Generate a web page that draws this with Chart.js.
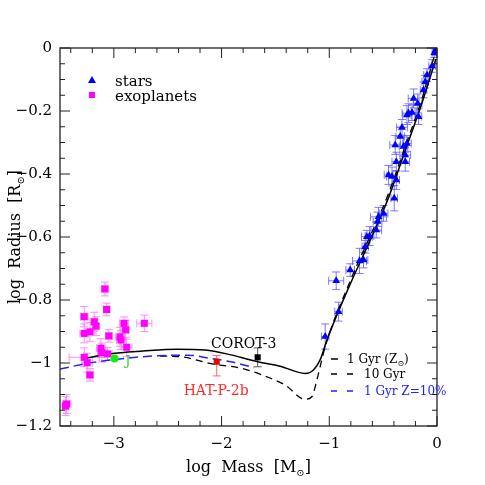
<!DOCTYPE html>
<html><head><meta charset="utf-8">
<script src="https://cdn.jsdelivr.net/npm/chart.js@4.4.1/dist/chart.umd.min.js"></script>
<style>html,body{margin:0;padding:0;background:#fff;}</style>
</head><body>
<canvas id="c" width="485" height="485"></canvas>
<script>
// ---- tick labels ----
const xTickValues = [-3, -2, -1, 0];
const xTickLabels = ['−3', '−2', '−1', '0'];
const yTickValues = [0, -0.2, -0.4, -0.6, -0.8, -1, -1.2];
const yTickLabels = ['0', '−0.2', '−0.4', '−0.6', '−0.8', '−1', '−1.2'];

// ---- exoplanets ----
const planetX = [-3.083,-3.067,-3.275,-3.182,-3.166,-2.717,-2.906,-2.890,-3.275,-3.222,-3.046,-2.943,-2.934,-2.881,-3.120,-3.113,-3.058,-3.275,-3.247,-3.222,-3.439,-3.448];
const planetY = [-0.765,-0.830,-0.853,-0.869,-0.883,-0.874,-0.874,-0.895,-0.906,-0.901,-0.914,-0.917,-0.927,-0.950,-0.953,-0.967,-0.971,-0.982,-0.999,-1.038,-1.130,-1.137];
const planetXErr = [0.03,0.03,0.035,0.03,0.03,0.07,0.04,0.03,0.04,0.04,0.03,0.04,0.04,0.05,0.04,0.04,0.04,0.14,0.05,0.03,0.04,0.03];
const planetYErr = [0.022,0.02,0.032,0.03,0.03,0.026,0.02,0.03,0.03,0.03,0.02,0.03,0.03,0.03,0.03,0.03,0.02,0.03,0.03,0.02,0.03,0.03];

// ---- stars ----
const starX = [-1.038,-0.914,-0.936,-0.806,-0.719,-0.682,-0.666,-0.651,-0.626,-0.564,-0.552,-0.543,-0.496,-0.397,-0.450,-0.418,-0.378,-0.378,-0.295,-0.295,-0.388,-0.310,-0.279,-0.341,-0.325,-0.279,-0.264,-0.232,-0.171,-0.180,-0.217,-0.125,-0.109,-0.093,-0.046,-0.025,-0.007,-0.015];
const starY = [-0.916,-0.837,-0.739,-0.705,-0.676,-0.673,-0.631,-0.599,-0.597,-0.578,-0.551,-0.536,-0.525,-0.477,-0.403,-0.408,-0.419,-0.361,-0.361,-0.340,-0.308,-0.313,-0.303,-0.281,-0.252,-0.213,-0.207,-0.205,-0.218,-0.176,-0.160,-0.133,-0.107,-0.086,-0.057,-0.015,-0.003,-0.008];
const starXErr = [0.035,0.035,0.07,0.04,0.065,0.04,0.03,0.05,0.04,0.05,0.04,0.075,0.04,0.03,0.04,0.05,0.03,0.04,0.04,0.05,0.05,0.04,0.04,0.04,0.05,0.04,0.06,0.04,0.03,0.04,0.05,0.03,0.03,0.03,0.03,0.02,0.02,0.02];
const starYErr = [0.04,0.03,0.028,0.02,0.04,0.025,0.02,0.02,0.03,0.025,0.03,0.03,0.025,0.04,0.03,0.03,0.03,0.03,0.03,0.025,0.03,0.03,0.025,0.03,0.025,0.03,0.03,0.025,0.025,0.03,0.03,0.025,0.02,0.02,0.02,0.015,0.015,0.015];

// ---- named objects ----
const corotX = [-1.665], corotY = [-0.982], corotYErr = [0.03];
const hatX = [-2.045], hatY = [-0.996], hatYErrUp = [0.02], hatYErrDown = [0.045];
const jupX = [-2.994], jupY = [-0.986];

// ---- model curves ----
const gyr1X = [-3.299,-3.036,-2.73,-2.416,-2.153,-1.952,-1.664,-1.456,-1.224,-1.147,-1.085,-1.022,-0.80,-0.60,-0.45,-0.30,-0.15,-0.01];
const gyr1Y = [-0.988,-0.971,-0.962,-0.956,-0.959,-0.971,-0.996,-1.010,-1.033,-1.022,-0.990,-0.927,-0.745,-0.595,-0.475,-0.330,-0.185,-0.035];
const gyr10X = [-2.57,-2.385,-2.088,-1.828,-1.624,-1.41,-1.224,-1.162,-1.115,-1.085,-1.038,-0.80,-0.60,-0.45,-0.30,-0.15,-0.02];
const gyr10Y = [-0.978,-0.980,-1.003,-1.016,-1.038,-1.070,-1.115,-1.107,-1.054,-1.012,-0.948,-0.735,-0.582,-0.462,-0.317,-0.172,-0.02];
const zlowX = [-3.50,-3.191,-2.727,-2.323,-2.107,-1.902,-1.698];
const zlowY = [-1.019,-0.998,-0.980,-0.975,-0.985,-0.997,-1.015];

const pts = (xs, ys) => xs.map((x, i) => ({x: x, y: ys[i]}));
const SERIF = '"DejaVu Serif", "Liberation Serif", serif';

function drawParts(ctx, parts, x, y, align, color) {
  let total = 0;
  parts.forEach(p => { ctx.font = p[1] + 'px ' + SERIF; total += ctx.measureText(p[0]).width; });
  let cx = align === 'center' ? x - total / 2 : x;
  ctx.fillStyle = color;
  ctx.textAlign = 'left';
  parts.forEach(p => {
    ctx.font = p[1] + 'px ' + SERIF;
    ctx.fillText(p[0], cx, y + (p[2] || 0));
    cx += ctx.measureText(p[0]).width;
  });
}

const decorPlugin = {
  id: 'decor',
  beforeDatasetsDraw(chart) {
    const ctx = chart.ctx, xs = chart.scales.x, ys = chart.scales.y, a = chart.chartArea;
    ctx.save();
    ctx.beginPath(); ctx.rect(a.left, a.top, a.width, a.height); ctx.clip();
    function bars(X, Y, XE, YEu, YEd, color, cap) {
      ctx.strokeStyle = color; ctx.lineWidth = 1;
      for (let i = 0; i < X.length; i++) {
        const px = xs.getPixelForValue(X[i]), py = ys.getPixelForValue(Y[i]);
        ctx.beginPath();
        if (XE) {
          const x1 = xs.getPixelForValue(X[i] - XE[i]), x2 = xs.getPixelForValue(X[i] + XE[i]);
          ctx.moveTo(x1, py); ctx.lineTo(x2, py);
          ctx.moveTo(x1, py - cap); ctx.lineTo(x1, py + cap);
          ctx.moveTo(x2, py - cap); ctx.lineTo(x2, py + cap);
        }
        if (YEu) {
          const y1 = ys.getPixelForValue(Y[i] + YEu[i]), y2 = ys.getPixelForValue(Y[i] - YEd[i]);
          ctx.moveTo(px, y1); ctx.lineTo(px, y2);
          ctx.moveTo(px - cap, y1); ctx.lineTo(px + cap, y1);
          ctx.moveTo(px - cap, y2); ctx.lineTo(px + cap, y2);
        }
        ctx.stroke();
      }
    }
    bars(planetX, planetY, planetXErr, planetYErr, planetYErr, 'rgba(255,110,255,0.8)', 4);
    bars(starX, starY, starXErr, starYErr, starYErr, 'rgba(90,90,255,0.8)', 4);
    bars(corotX, corotY, null, corotYErr, corotYErr, '#555555', 4);
    bars(hatX, hatY, null, hatYErrUp, hatYErrDown, '#ff6666', 4);
    ctx.restore();
  },
  afterDraw(chart) {
    const ctx = chart.ctx, xs = chart.scales.x, ys = chart.scales.y, a = chart.chartArea;
    ctx.save();
    ctx.strokeStyle = '#222'; ctx.lineWidth = 1.3;
    ctx.strokeRect(a.left, a.top, a.width, a.height);
    ctx.lineWidth = 1;
    ctx.beginPath();
    for (let i = -17; i <= 0; i++) {
      const v = i * 0.2, major = (i % 5 === 0), len = major ? 10 : 5;
      const px = xs.getPixelForValue(v);
      ctx.moveTo(px, a.bottom); ctx.lineTo(px, a.bottom - len);
      ctx.moveTo(px, a.top); ctx.lineTo(px, a.top + len);
    }
    for (let i = -24; i <= 0; i++) {
      const v = i * 0.05, major = (i % 4 === 0), len = major ? 10 : 5;
      const py = ys.getPixelForValue(v);
      ctx.moveTo(a.left, py); ctx.lineTo(a.left + len, py);
      ctx.moveTo(a.right, py); ctx.lineTo(a.right - len, py);
    }
    ctx.stroke();

    ctx.textBaseline = 'alphabetic';
    drawParts(ctx, [['log  Mass  [M', 16], ['⊙', 10, 4], [']', 16]], (a.left + a.right) / 2, 472, 'center', '#000');
    ctx.save();
    ctx.translate(20, (a.top + a.bottom) / 2);
    ctx.rotate(-Math.PI / 2);
    drawParts(ctx, [['log  Radius  [R', 16], ['⊙', 10, 4], [']', 16]], 0, 0, 'center', '#000');
    ctx.restore();

    ctx.fillStyle = '#0000ff';
    ctx.beginPath();
    ctx.moveTo(92, 76); ctx.lineTo(96, 83); ctx.lineTo(88, 83); ctx.closePath(); ctx.fill();
    ctx.fillStyle = '#ff00ff';
    ctx.fillRect(89, 92, 6, 6);
    ctx.font = '15px ' + SERIF; ctx.fillStyle = '#000'; ctx.textAlign = 'left';
    ctx.fillText('stars', 115, 86);
    ctx.fillText('exoplanets', 115, 101);

    ctx.font = '14px ' + SERIF;
    ctx.textAlign = 'center';
    ctx.fillStyle = '#000';
    ctx.fillText('COROT-3', xs.getPixelForValue(-1.795), ys.getPixelForValue(-0.953));
    ctx.fillStyle = '#ff2a2a';
    ctx.fillText('HAT-P-2b', xs.getPixelForValue(-2.05), ys.getPixelForValue(-1.100));
    ctx.fillStyle = '#33cc33';
    ctx.font = '13px ' + SERIF;
    ctx.fillText('J', xs.getPixelForValue(-2.87), ys.getPixelForValue(-1.005));

    ctx.lineWidth = 1.5;
    ctx.strokeStyle = '#000';
    ctx.beginPath(); ctx.moveTo(331, 359); ctx.lineTo(338, 359); ctx.stroke();
    ctx.beginPath(); ctx.moveTo(331, 374); ctx.lineTo(337, 374); ctx.moveTo(347, 374); ctx.lineTo(353, 374); ctx.stroke();
    ctx.strokeStyle = '#2222ff';
    ctx.beginPath(); ctx.moveTo(331, 391); ctx.lineTo(337, 391); ctx.moveTo(347, 391); ctx.lineTo(353, 391); ctx.stroke();
    drawParts(ctx, [['1 Gyr (Z', 12], ['⊙', 8, 3], [')', 12]], 347, 363, 'left', '#000');
    drawParts(ctx, [['10 Gyr', 12]], 364, 378, 'left', '#000');
    drawParts(ctx, [['1 Gyr Z=10%', 12]], 364, 395, 'left', '#2222ff');
    ctx.restore();
  }
};

new Chart(document.getElementById('c'), {
  type: 'scatter',
  data: {
    datasets: [
      { label: '1 Gyr Z=10%', data: pts(zlowX, zlowY), showLine: true, borderColor: '#2222ff', borderWidth: 1.5, borderDash: [9, 5], pointRadius: 0, fill: false, cubicInterpolationMode: 'monotone', order: 5 },
      { label: '10 Gyr', data: pts(gyr10X, gyr10Y), showLine: true, borderColor: '#000', borderWidth: 1.3, borderDash: [7, 5], pointRadius: 0, fill: false, cubicInterpolationMode: 'monotone', order: 5 },
      { label: '1 Gyr', data: pts(gyr1X, gyr1Y), showLine: true, borderColor: '#000', borderWidth: 1.5, pointRadius: 0, fill: false, cubicInterpolationMode: 'monotone', order: 5 },
      { label: 'exoplanets', data: pts(planetX, planetY), pointStyle: 'rect', pointRadius: 5, backgroundColor: '#ff00ff', borderWidth: 0, order: 2 },
      { label: 'stars', data: pts(starX, starY), pointStyle: 'triangle', pointRadius: 4.5, backgroundColor: '#0000ff', borderWidth: 0, order: 2 },
      { label: 'COROT-3', data: pts(corotX, corotY), pointStyle: 'rect', pointRadius: 4.3, backgroundColor: '#000', borderWidth: 0, order: 1 },
      { label: 'HAT-P-2b', data: pts(hatX, hatY), pointStyle: 'rect', pointRadius: 4.3, backgroundColor: '#ee0000', borderWidth: 0, order: 1 },
      { label: 'J', data: pts(jupX, jupY), pointStyle: 'circle', pointRadius: 4, backgroundColor: '#11ee11', borderWidth: 0, order: 0 }
    ]
  },
  options: {
    responsive: false, animation: false, devicePixelRatio: 1,
    layout: { padding: { left: 0, right: 48, top: 48, bottom: 0 } },
    plugins: { legend: { display: false }, tooltip: { enabled: false } },
    scales: {
      x: {
        type: 'linear', min: -3.5, max: 0,
        grid: { display: false, drawTicks: false },
        border: { display: false },
        afterBuildTicks: s => { s.ticks = xTickValues.map(v => ({ value: v })); },
        afterFit: s => { s.height = 59; },
        ticks: { color: '#000', padding: 9, maxRotation: 0, autoSkip: false, font: { family: SERIF, size: 15 },
          callback: v => { const i = xTickValues.findIndex(t => Math.abs(t - v) < 1e-6); return i >= 0 ? xTickLabels[i] : ''; } }
      },
      y: {
        type: 'linear', min: -1.2, max: 0,
        grid: { display: false, drawTicks: false },
        border: { display: false },
        afterBuildTicks: s => { s.ticks = yTickValues.map(v => ({ value: v })); },
        afterFit: s => { s.width = 60; },
        ticks: { color: '#000', padding: 8, autoSkip: false, font: { family: SERIF, size: 15 },
          callback: v => { const i = yTickValues.findIndex(t => Math.abs(t - v) < 1e-6); return i >= 0 ? yTickLabels[i] : ''; } }
      }
    }
  },
  plugins: [decorPlugin]
});
</script>
</body></html>
